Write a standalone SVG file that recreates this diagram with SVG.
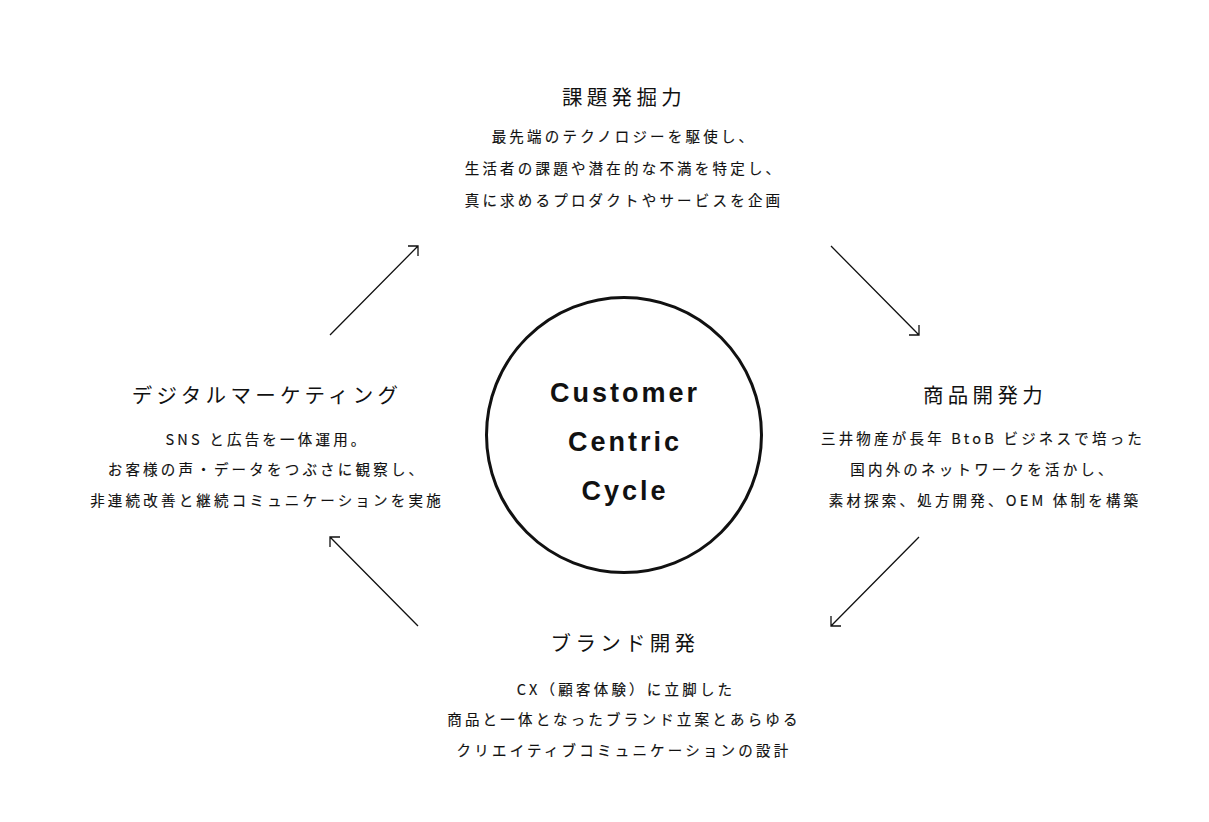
<svg xmlns="http://www.w3.org/2000/svg" width="1209" height="822" viewBox="0 0 1209 822">
<style>
.t{font-family:"Noto Sans CJK JP","Noto Sans",sans-serif;font-size:20.5px;font-weight:400;letter-spacing:4.3px;fill:#111;text-anchor:middle}
.b{font-family:"Noto Sans CJK JP","Noto Sans",sans-serif;font-size:14.5px;font-weight:400;letter-spacing:3.2px;fill:#111;stroke:#111;stroke-width:0.15px;text-anchor:middle}
.c{font-family:"Liberation Sans","Noto Sans",sans-serif;font-size:27px;font-weight:bold;letter-spacing:3px;fill:#111;text-anchor:middle}
.ln{stroke:#111;stroke-width:1.3;fill:none}
</style>
<rect width="1209" height="822" fill="#fff"/>
<g id="center">
<circle cx="624" cy="435" r="137.5" fill="none" stroke="#111" stroke-width="3"/>
<text class="c" x="625" y="402">Customer</text>
<text class="c" x="625" y="451">Centric</text>
<text class="c" x="625" y="500">Cycle</text>
</g>
<g id="node-top">
<text class="t" x="624" y="105">課題発掘力</text>
<text class="b" x="624" y="142">最先端のテクノロジーを駆使し、</text>
<text class="b" x="624" y="174">生活者の課題や潜在的な不満を特定し、</text>
<text class="b" x="624" y="206">真に求めるプロダクトやサービスを企画</text>
</g>
<g id="node-right">
<text class="t" x="985" y="403">商品開発力</text>
<text class="b" x="983" y="444">三井物産が長年 BtoB ビジネスで培った</text>
<text class="b" x="983" y="475">国内外のネットワークを活かし、</text>
<text class="b" x="985" y="506">素材探索、処方開発、OEM 体制を構築</text>
</g>
<g id="node-bottom">
<text class="t" x="625" y="651">ブランド開発</text>
<text class="b" x="626" y="695">CX（顧客体験）に立脚した</text>
<text class="b" x="624" y="725">商品と一体となったブランド立案とあらゆる</text>
<text class="b" x="624" y="756">クリエイティブコミュニケーションの設計</text>
</g>
<g id="node-left">
<text class="t" x="267" y="403">デジタルマーケティング</text>
<text class="b" x="267" y="445">SNS と広告を一体運用。</text>
<text class="b" x="267" y="475">お客様の声・データをつぶさに観察し、</text>
<text class="b" x="267" y="506">非連続改善と継続コミュニケーションを実施</text>
</g>
<g id="connectors">
<path class="ln" d="M330 335 L418 246 M408 246 H418 V256"/>
<path class="ln" d="M831 246 L919 335 M909 335 H919 V325"/>
<path class="ln" d="M919 537 L831 626 M841 626 H831 V616"/>
<path class="ln" d="M418 626 L330 537 M340 537 H330 V547"/>
</g>
</svg>
